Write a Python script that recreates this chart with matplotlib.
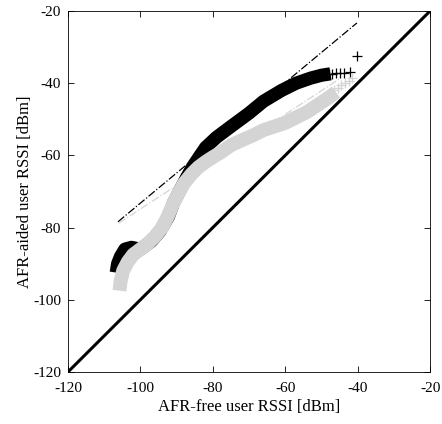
import matplotlib
matplotlib.use('Agg')
import matplotlib.pyplot as plt

plt.rcParams['font.family'] = ['Liberation Serif', 'DejaVu Serif']
plt.rcParams['axes.unicode_minus'] = False

# AFR-aided vs AFR-free RSSI (black series)
black_x = [-106.7, -106.3, -105.5, -104.3, -102.5, -100.0, -97.0, -94.6, -92.3, -90.8,
           -89.0, -87.2, -85.5, -83.5, -82.0, -79.0, -75.0, -70.0, -66.0, -61.0,
           -57.0, -53.0, -50.0, -47.5]
black_y = [-92.5, -90.0, -88.0, -86.0, -85.5, -86.0, -83.8, -81.0, -77.0, -73.0,
           -69.5, -66.0, -63.0, -60.0, -57.8, -55.0, -52.0, -48.3, -45.0, -42.0,
           -40.0, -38.6, -37.8, -37.4]
black_end_x = [-48.0, -47.0, -46.0, -45.0, -43.7, -42.2, -40.2]
black_end_y = [-37.5, -37.4, -37.3, -37.2, -37.1, -37.0, -32.5]

# gray series
gray_x = [-105.8, -105.5, -104.8, -103.5, -102.0, -100.0, -98.0, -96.0, -94.0, -92.5,
          -91.0, -89.5, -88.0, -86.0, -84.0, -82.0, -80.0, -78.0, -75.0, -72.0,
          -69.0, -66.0, -63.0, -60.0, -57.0, -54.0, -51.0, -48.0, -46.0]
gray_y = [-97.5, -95.0, -92.0, -89.5, -87.5, -86.0, -84.5, -82.5, -80.0, -77.0,
          -73.5, -70.5, -67.8, -65.3, -63.3, -61.8, -60.5, -59.3, -57.2, -55.8,
          -54.5, -53.0, -52.0, -51.0, -49.5, -48.0, -46.0, -44.0, -42.5]
gray_end_x = [-46.5, -45.5, -44.5, -43.5, -42.5, -41.5]
gray_end_y = [-41.8, -41.3, -40.6, -40.0, -39.3, -38.5]

# fitted dash-dot lines
fit_black_x = [-106.2, -40.2]
fit_black_y = [-78.4, -23.3]
fit_gray_x = [-106.0, -45.0]
fit_gray_y = [-78.8, -38.8]

diag = [-120, -20]
ticks = [-120, -100, -80, -60, -40, -20]

fig = plt.figure(figsize=(4.42, 4.24), dpi=100)
ax = fig.add_axes([0.154, 0.123, 0.819, 0.851])

gray = '#d4d4d4'

ax.plot(fit_gray_x, fit_gray_y, color=gray, linestyle='-.', linewidth=0.9, zorder=1)
ax.plot(black_x, black_y, color='black', linewidth=9.5, solid_capstyle='butt',
        solid_joinstyle='round', zorder=2)
ax.plot(black_end_x, black_end_y, linestyle='none', marker='+', markersize=7,
        color='black', markeredgewidth=0.9, zorder=2)
ax.plot(gray_x, gray_y, color=gray, linewidth=10, solid_capstyle='butt',
        solid_joinstyle='round', zorder=3)
ax.plot(gray_end_x, gray_end_y, linestyle='none', marker='+', markersize=7,
        color=gray, markeredgewidth=0.9, zorder=3)
ax.plot(fit_black_x, fit_black_y, color='black', linestyle='-.', linewidth=0.9, zorder=4)
ax.plot(diag, diag, color='black', linewidth=2.2, zorder=5)

ax.set_xlim(-120, -20)
ax.set_ylim(-120, -20)
ax.set_xticks(ticks)
ax.set_yticks(ticks)
ax.tick_params(direction='in', top=True, right=True, labelsize=11, length=4, width=0.6)
ax.tick_params(axis='x', pad=7)
ax.tick_params(axis='y', pad=5)
for s in ax.spines.values():
    s.set_linewidth(0.6)

ax.set_xlabel('AFR-free user RSSI [dBm]', fontsize=12, labelpad=3)
ax.set_ylabel('AFR-aided user RSSI [dBm]', fontsize=12, labelpad=0)

fig.savefig('out.png', dpi=100)
